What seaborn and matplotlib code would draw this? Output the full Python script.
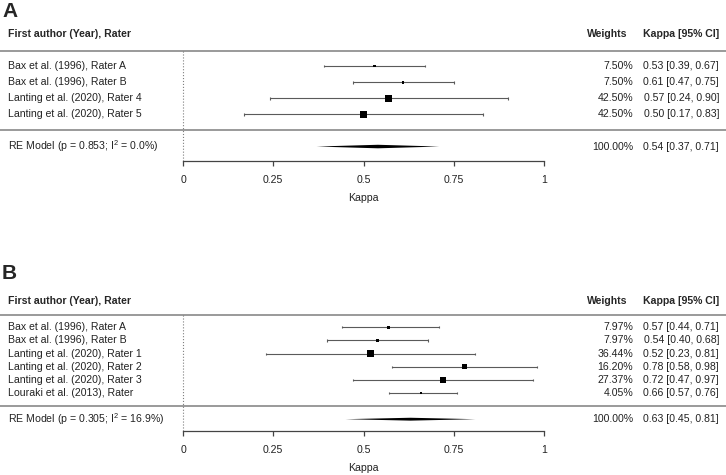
import matplotlib
matplotlib.use("Agg")
import matplotlib.pyplot as plt
import seaborn as sns
import pandas as pd

# panel A
studies_a = [
    "Bax et al. (1996), Rater A",
    "Bax et al. (1996), Rater B",
    "Lanting et al. (2020), Rater 4",
    "Lanting et al. (2020), Rater 5",
]
weights_a = [7.50, 7.50, 42.50, 42.50]
kappa_a = [0.53, 0.61, 0.57, 0.50]
lower_a = [0.39, 0.47, 0.24, 0.17]
upper_a = [0.67, 0.75, 0.90, 0.83]
re_a = [0.54, 0.37, 0.71]
re_label_a = "RE Model (p = 0.853; I$^2$ = 0.0%)"

# panel B
studies_b = [
    "Bax et al. (1996), Rater A",
    "Bax et al. (1996), Rater B",
    "Lanting et al. (2020), Rater 1",
    "Lanting et al. (2020), Rater 2",
    "Lanting et al. (2020), Rater 3",
    "Louraki et al. (2013), Rater",
]
weights_b = [7.97, 7.97, 36.44, 16.20, 27.37, 4.05]
kappa_b = [0.57, 0.54, 0.52, 0.78, 0.72, 0.66]
lower_b = [0.44, 0.40, 0.23, 0.58, 0.47, 0.57]
upper_b = [0.71, 0.68, 0.81, 0.98, 0.97, 0.76]
re_b = [0.63, 0.45, 0.81]
re_label_b = "RE Model (p = 0.305; I$^2$ = 16.9%)"

x_ticks = [0, 0.25, 0.5, 0.75, 1]
x_tick_labels = ["0", "0.25", "0.5", "0.75", "1"]

sns.set_style("white")
plt.rcParams["font.family"] = ["Liberation Sans", "DejaVu Sans"]
plt.rcParams["mathtext.fontset"] = "custom"
plt.rcParams["mathtext.rm"] = "Liberation Sans"

W, H = 726, 475
FS = 7.6
RULE = "#7f7f7f"
INK = "#222222"
CI = "#5a5a5a"

fig = plt.figure(figsize=(W / 100, H / 100), dpi=100)


def px_to_x(px):
    # kappa 0 sits at pixel 183, kappa 1 at pixel 544
    return (px - 183) / 361


def forest(ax, studies, weights, kappa, lower, upper, re, re_label, sizes):
    n = len(studies)
    df = pd.DataFrame({
        "study": studies, "weight": weights, "kappa": kappa,
        "lower": lower, "upper": upper, "row": range(n),
    })
    ax.set_xlim(px_to_x(0), px_to_x(W))

    ax.hlines(df["row"], df["lower"], df["upper"], color=CI, lw=0.8)
    ax.vlines(df["lower"], df["row"] - 0.08, df["row"] + 0.08, color=CI, lw=0.8)
    ax.vlines(df["upper"], df["row"] - 0.08, df["row"] + 0.08, color=CI, lw=0.8)
    sns.scatterplot(data=df, x="kappa", y="row", size="weight", sizes=sizes,
                    marker="s", color="black", edgecolor="none", legend=False,
                    ax=ax, zorder=3)

    re_row = n + 1
    est, lo, hi = re
    ax.fill([lo, est, hi, est], [re_row, re_row - 0.11, re_row, re_row + 0.11],
            color="black", lw=0)

    # rules and reference line
    ax.axhline(-0.94, color=RULE, lw=1.1)
    ax.axhline(n, color=RULE, lw=1.1)
    ax.vlines(0, -0.94, re_row + 0.9, color=RULE, lw=0.8, linestyles=":")

    xl, xw, xc = px_to_x(8), px_to_x(633), px_to_x(719)
    ax.text(xl, -2, "First author (Year), Rater", fontsize=FS, weight="bold", va="center")
    ax.text(px_to_x(627), -2, "Weights", fontsize=FS, weight="bold", va="center", ha="right")
    ax.text(xc, -2, "Kappa [95% CI]", fontsize=FS, weight="bold", va="center", ha="right")
    for r in df.itertuples():
        ax.text(xl, r.row, r.study, fontsize=FS, va="center", color=INK)
        ax.text(xw, r.row, f"{r.weight:.2f}%", fontsize=FS, va="center", ha="right", color=INK)
        ax.text(xc, r.row, f"{r.kappa:.2f} [{r.lower:.2f}, {r.upper:.2f}]",
                fontsize=FS, va="center", ha="right", color=INK)
    ax.text(xl, re_row, re_label, fontsize=FS, va="center", color=INK)
    ax.text(xw, re_row, "100.00%", fontsize=FS, va="center", ha="right", color=INK)
    ax.text(xc, re_row, f"{est:.2f} [{lo:.2f}, {hi:.2f}]", fontsize=FS,
            va="center", ha="right", color=INK)

    ax.set_ylim(re_row + 0.9, -3)
    for s in ["left", "right", "top"]:
        ax.spines[s].set_visible(False)
    ax.spines["bottom"].set_bounds(0, 1)
    ax.spines["bottom"].set_color("#444444")
    ax.spines["bottom"].set_linewidth(0.9)
    ax.set_yticks([])
    ax.set_xticks(x_ticks)
    ax.set_xticklabels(x_tick_labels)
    ax.tick_params(axis="x", direction="out", length=3.6, width=0.9, color="#444444",
                   pad=6.5, labelsize=FS, labelcolor=INK, bottom=True)
    ax.set_xlabel("Kappa", fontsize=FS, labelpad=5.5, color=INK)
    ax.set_ylabel("")


ax_a = fig.add_axes([0, 1 - 161 / H, 1, (161 - 18) / H])
forest(ax_a, studies_a, weights_a, kappa_a, lower_a, upper_a, re_a, re_label_a, (3.2, 25))
ax_b = fig.add_axes([0, 1 - 431 / H, 1, (431 - 288) / H])
forest(ax_b, studies_b, weights_b, kappa_b, lower_b, upper_b, re_b, re_label_b, (2.1, 25))

fig.text(2 / W, 1 - 2 / H, "A", fontsize=15, weight="bold", va="top")
fig.text(2 / W, 1 - 264 / H, "B", fontsize=15, weight="bold", va="top")

fig.savefig("out.png", dpi=100)
